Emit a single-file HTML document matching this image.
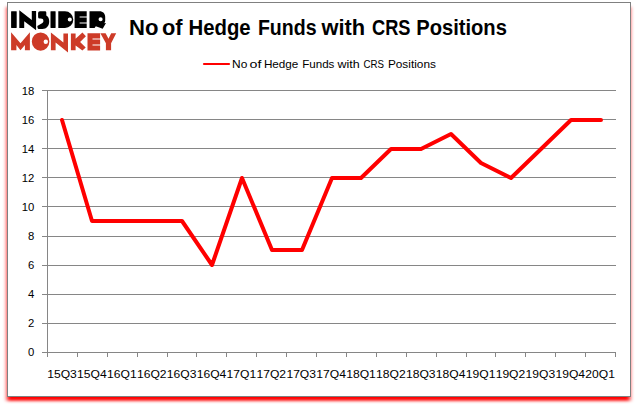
<!DOCTYPE html>
<html><head><meta charset="utf-8"><style>
html,body{margin:0;padding:0;background:#fff;width:637px;height:408px;overflow:hidden}
#box{position:absolute;left:7px;top:2px;width:624px;height:395px;box-sizing:border-box;border:1px solid #808080;background:#fff}
svg{position:absolute;left:0;top:0}
text{font-family:"Liberation Sans",sans-serif}
</style></head><body>
<svg width="637" height="408"><filter id="sb" x="-5%" y="-5%" width="110%" height="110%"><feGaussianBlur stdDeviation="2 1.6"/></filter><rect x="7" y="7" width="623" height="393.8" fill="#ff0000" filter="url(#sb)"/></svg><div id="box"></div>
<svg width="637" height="408" viewBox="0 0 637 408">
<g id="logo">
<g fill="#000">
<path d="M11.1 11.6Q11.1 11.2 11.5 11.2L16.3 11.2Q16.7 11.2 16.7 11.6L16.7 27.6Q16.7 28 16.3 28L11.5 28Q11.1 28 11.1 27.6Z"/>
<path d="M19.3 10.3L31.8 20L31.8 11L36.1 11L36.1 30.2L24.2 21.3L24.2 28L19.3 28Z"/>
<path d="M38.1 13Q38.1 11.2 39.9 11.2L45.1 11.2Q46.3 11.2 46.3 12.4L46.3 15.4C48.3 16.6 49.2 18.6 49.2 21.2C49.2 25.8 46.6 28.9 42.4 28.9L38.8 28.9Q37.8 28.9 37.6 27.9L37.3 26L41.6 23.4C43 22.6 43.4 21.8 43.4 20.9C43.4 19.4 42.4 18.6 40.9 18.6L39.6 18.6Q38.1 18.6 38.1 17.1Z"/>
<path d="M50.5 11.6Q50.5 11.2 50.9 11.2L55.2 11.2Q55.6 11.2 55.6 11.6L55.6 27.6Q55.6 28 55.2 28L50.9 28Q50.5 28 50.5 27.6Z"/>
<path fill-rule="evenodd" d="M58.3 11.2L65 11.2A8.3 8.4 0 0 1 65 28L58.3 28Z M71.86 19.5A2.06 2.06 0 1 0 67.74 19.5A2.06 2.06 0 1 0 71.86 19.5Z"/>
<path d="M74.6 11.2L86.7 11.2L86.7 16.5L79.6 16.5L79.6 17.5L86.7 17.5L86.7 22.5L79.6 22.5L79.6 23.5L86.7 23.5L86.7 28L74.6 28Z"/>
<path fill-rule="evenodd" d="M89.5 11.2L99.5 11.2C103 11.2 105.2 13.5 105.2 17L105.2 20.5C105.2 21.8 104.8 22.6 104.2 23.2L106 23.1L102.7 28.7L95.8 26.3L94.6 27.9L89.5 27.9Z M102.66 19.2A2.06 2.06 0 1 0 98.54 19.2A2.06 2.06 0 1 0 102.66 19.2Z"/>
</g>
<g fill="#cd3b28">
<path d="M11.1 32.2L20.5 43.2L29.9 32.2L29.9 50.3L24.9 50.3L24.9 45L20.5 50.3L16.4 45L16.4 50.3L11.1 50.3Z"/>
<path fill-rule="evenodd" d="M49.4 41.6A8.8 9.2 0 1 0 31.8 41.6A8.8 9.2 0 1 0 49.4 41.6Z M48 41.8A2.2 2.2 0 1 0 43.6 41.8A2.2 2.2 0 1 0 48 41.8Z"/>
<path d="M50.9 32.4L63.4 42.6L63.4 33.5L68 33.5L68 52.4L55.6 42.4L55.6 50.3L50.9 50.3Z"/>
<path d="M70.9 33.5L75.6 33.5L75.6 38.8L82.4 32.6L85.9 36.2L80.1 42L85.7 47.4L82.4 50.6L75.6 45.5L75.6 50.3L70.9 50.3Z"/>
<path d="M87.5 33.2L100.1 33.2L100.1 38.4L92.5 38.4L92.5 39.5L100.1 39.5L100.1 44.5L92.5 44.5L92.5 45.6L100.1 45.6L100.1 50.6L87.5 50.6Z"/>
<path d="M100.4 33.2L105.6 33.2L108.5 38.8L111.2 33.2L116.2 33.2L111.1 43.2L111.1 50.3L105.9 50.3L105.9 43.2Z"/>
</g>
</g>
<g stroke="#868686" stroke-width="1" shape-rendering="crispEdges"><line x1="42" y1="90.5" x2="616" y2="90.5"/><line x1="42" y1="119.5" x2="616" y2="119.5"/><line x1="42" y1="148.5" x2="616" y2="148.5"/><line x1="42" y1="177.5" x2="616" y2="177.5"/><line x1="42" y1="206.5" x2="616" y2="206.5"/><line x1="42" y1="236.5" x2="616" y2="236.5"/><line x1="42" y1="265.5" x2="616" y2="265.5"/><line x1="42" y1="294.5" x2="616" y2="294.5"/><line x1="42" y1="323.5" x2="616" y2="323.5"/><line x1="42" y1="352.5" x2="616" y2="352.5"/><line x1="47.5" y1="90" x2="47.5" y2="357"/><line x1="77.5" y1="352" x2="77.5" y2="357"/><line x1="107.5" y1="352" x2="107.5" y2="357"/><line x1="137.5" y1="352" x2="137.5" y2="357"/><line x1="167.5" y1="352" x2="167.5" y2="357"/><line x1="196.5" y1="352" x2="196.5" y2="357"/><line x1="226.5" y1="352" x2="226.5" y2="357"/><line x1="256.5" y1="352" x2="256.5" y2="357"/><line x1="286.5" y1="352" x2="286.5" y2="357"/><line x1="316.5" y1="352" x2="316.5" y2="357"/><line x1="346.5" y1="352" x2="346.5" y2="357"/><line x1="376.5" y1="352" x2="376.5" y2="357"/><line x1="406.5" y1="352" x2="406.5" y2="357"/><line x1="436.5" y1="352" x2="436.5" y2="357"/><line x1="466.5" y1="352" x2="466.5" y2="357"/><line x1="495.5" y1="352" x2="495.5" y2="357"/><line x1="525.5" y1="352" x2="525.5" y2="357"/><line x1="555.5" y1="352" x2="555.5" y2="357"/><line x1="585.5" y1="352" x2="585.5" y2="357"/><line x1="615.5" y1="352" x2="615.5" y2="357"/></g>
<polyline points="62,120 92,221 122,221 152,221 182,221 212,265 242,178 272,250 302,250 332,178 361,178 391,149 421,149 451,134 481,163 511,178 541,149 571,120 601,120" fill="none" stroke="#ff0000" stroke-width="4" stroke-linejoin="round" stroke-linecap="round"/>
<g font-size="11.3" fill="#000" text-anchor="end"><text x="34.4" y="94.6">18</text><text x="34.4" y="123.6">16</text><text x="34.4" y="152.6">14</text><text x="34.4" y="181.6">12</text><text x="34.4" y="210.6">10</text><text x="34.4" y="239.6">8</text><text x="34.4" y="268.6">6</text><text x="34.4" y="297.6">4</text><text x="34.4" y="326.6">2</text><text x="34.4" y="355.6">0</text></g>
<g font-size="11.3" fill="#000"><text x="47.25" y="377.6" textLength="29.6" lengthAdjust="spacingAndGlyphs">15Q3</text><text x="77.14" y="377.6" textLength="29.6" lengthAdjust="spacingAndGlyphs">15Q4</text><text x="107.04" y="377.6" textLength="29.6" lengthAdjust="spacingAndGlyphs">16Q1</text><text x="136.93" y="377.6" textLength="29.6" lengthAdjust="spacingAndGlyphs">16Q2</text><text x="166.83" y="377.6" textLength="29.6" lengthAdjust="spacingAndGlyphs">16Q3</text><text x="196.72" y="377.6" textLength="29.6" lengthAdjust="spacingAndGlyphs">16Q4</text><text x="226.62" y="377.6" textLength="29.6" lengthAdjust="spacingAndGlyphs">17Q1</text><text x="256.51" y="377.6" textLength="29.6" lengthAdjust="spacingAndGlyphs">17Q2</text><text x="286.41" y="377.6" textLength="29.6" lengthAdjust="spacingAndGlyphs">17Q3</text><text x="316.30" y="377.6" textLength="29.6" lengthAdjust="spacingAndGlyphs">17Q4</text><text x="346.19" y="377.6" textLength="29.6" lengthAdjust="spacingAndGlyphs">18Q1</text><text x="376.09" y="377.6" textLength="29.6" lengthAdjust="spacingAndGlyphs">18Q2</text><text x="405.98" y="377.6" textLength="29.6" lengthAdjust="spacingAndGlyphs">18Q3</text><text x="435.88" y="377.6" textLength="29.6" lengthAdjust="spacingAndGlyphs">18Q4</text><text x="465.77" y="377.6" textLength="29.6" lengthAdjust="spacingAndGlyphs">19Q1</text><text x="495.67" y="377.6" textLength="29.6" lengthAdjust="spacingAndGlyphs">19Q2</text><text x="525.56" y="377.6" textLength="29.6" lengthAdjust="spacingAndGlyphs">19Q3</text><text x="555.46" y="377.6" textLength="29.6" lengthAdjust="spacingAndGlyphs">19Q4</text><text x="585.35" y="377.6" textLength="29.6" lengthAdjust="spacingAndGlyphs">20Q1</text></g>
<g font-size="21.5" font-weight="bold" fill="#000"><text x="129.02" y="34.8" textLength="29.46" lengthAdjust="spacingAndGlyphs">No</text><text x="162.0" y="34.8" textLength="20.59" lengthAdjust="spacingAndGlyphs">of</text><text x="188.52" y="34.8" textLength="62.18" lengthAdjust="spacingAndGlyphs">Hedge</text><text x="257.93" y="34.8" textLength="58.63" lengthAdjust="spacingAndGlyphs">Funds</text><text x="321.5" y="34.8" textLength="43.66" lengthAdjust="spacingAndGlyphs">with</text><text x="372.0" y="34.8" textLength="38.48" lengthAdjust="spacingAndGlyphs">CRS</text><text x="416.19" y="34.8" textLength="90.68" lengthAdjust="spacingAndGlyphs">Positions</text></g>
<line x1="204" y1="64" x2="229" y2="64" stroke="#ff0000" stroke-width="2.2" stroke-linecap="round"/>
<g font-size="11.3" fill="#000"><text x="232.1" y="67.8" textLength="15.28" lengthAdjust="spacingAndGlyphs">No</text><text x="249.6" y="67.8" textLength="11.86" lengthAdjust="spacingAndGlyphs">of</text><text x="263.9" y="67.8" textLength="34.49" lengthAdjust="spacingAndGlyphs">Hedge</text><text x="302.2" y="67.8" textLength="32.23" lengthAdjust="spacingAndGlyphs">Funds</text><text x="337.5" y="67.8" textLength="22.22" lengthAdjust="spacingAndGlyphs">with</text><text x="363.4" y="67.8" textLength="20.49" lengthAdjust="spacingAndGlyphs">CRS</text><text x="387.9" y="67.8" textLength="48.04" lengthAdjust="spacingAndGlyphs">Positions</text></g>
</svg>
</body></html>
